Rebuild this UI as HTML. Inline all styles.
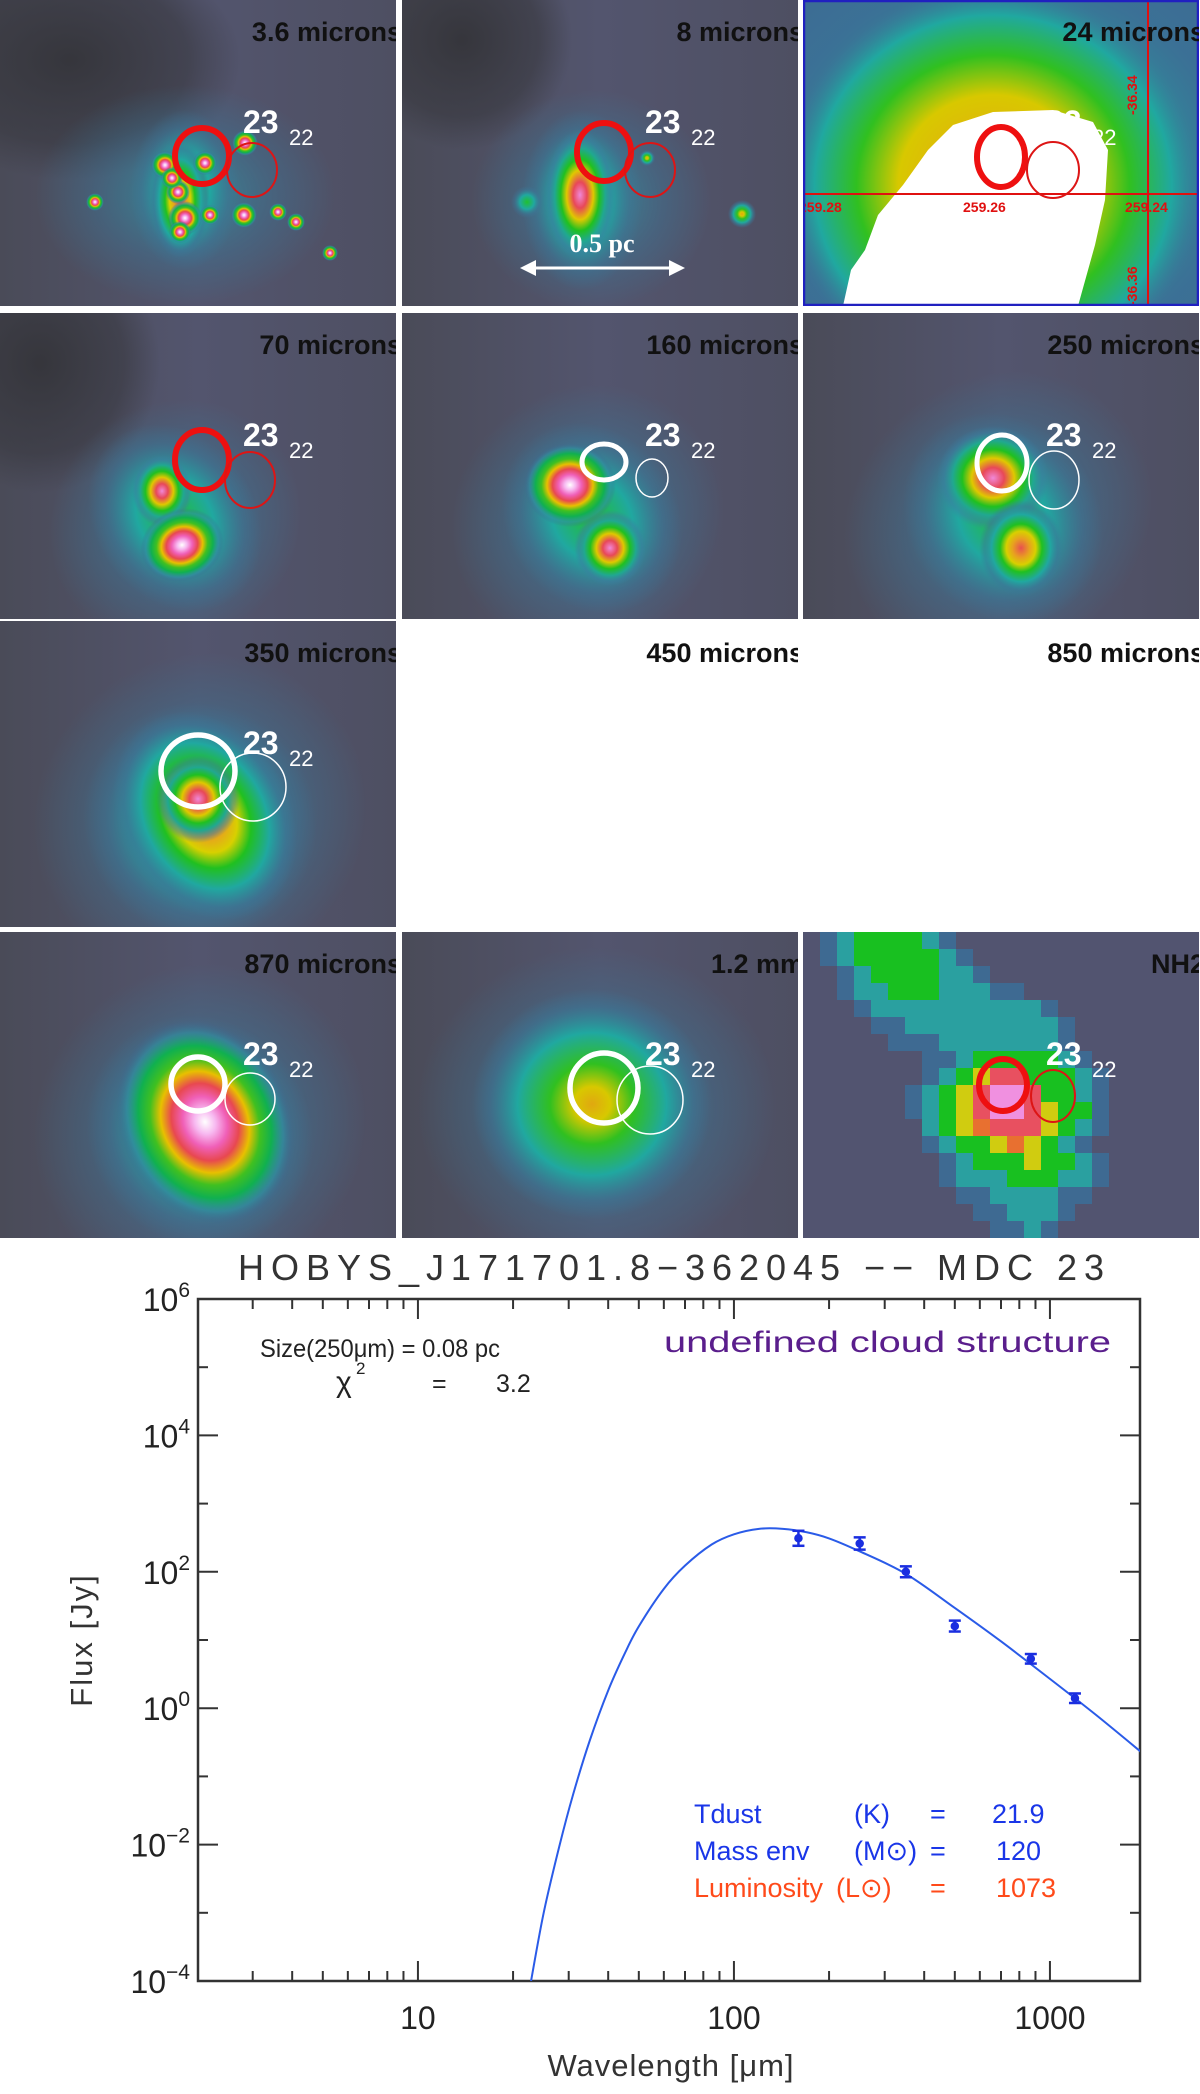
<!DOCTYPE html>
<html><head><meta charset="utf-8">
<style>
html,body{margin:0;padding:0;background:#fff;}
svg{display:block;}
text{font-family:"Liberation Sans",sans-serif;}
</style></head>
<body>
<svg id="root" width="1200" height="2094" viewBox="0 0 1200 2094" xmlns="http://www.w3.org/2000/svg">
<defs>
<radialGradient id="h5"><stop offset="0" stop-color="#ffffff"/><stop offset=".12" stop-color="#f7b8f0"/><stop offset=".25" stop-color="#f060b8"/><stop offset=".38" stop-color="#e84850"/><stop offset=".5" stop-color="#e8c000"/><stop offset=".62" stop-color="#40c020"/><stop offset=".75" stop-color="#10b050"/><stop offset=".88" stop-color="#3090a0" stop-opacity=".6"/><stop offset="1" stop-color="#406090" stop-opacity="0"/></radialGradient>
<radialGradient id="h4"><stop offset="0" stop-color="#f088d8"/><stop offset=".2" stop-color="#e84858"/><stop offset=".38" stop-color="#e0c800"/><stop offset=".55" stop-color="#20c020"/><stop offset=".72" stop-color="#20a890"/><stop offset=".88" stop-color="#3a80a0" stop-opacity=".5"/><stop offset="1" stop-color="#3a80a0" stop-opacity="0"/></radialGradient>
<radialGradient id="h3"><stop offset="0" stop-color="#e85050"/><stop offset=".2" stop-color="#e8a020"/><stop offset=".35" stop-color="#d8d000"/><stop offset=".5" stop-color="#20c020"/><stop offset=".7" stop-color="#20a8a0"/><stop offset=".88" stop-color="#3a7898" stop-opacity=".5"/><stop offset="1" stop-color="#3a7898" stop-opacity="0"/></radialGradient>
<radialGradient id="h2"><stop offset="0" stop-color="#e0a810"/><stop offset=".15" stop-color="#d8c800"/><stop offset=".35" stop-color="#30c020"/><stop offset=".62" stop-color="#20a8a0"/><stop offset=".85" stop-color="#3a7898" stop-opacity=".5"/><stop offset="1" stop-color="#3a7898" stop-opacity="0"/></radialGradient>
<radialGradient id="h1"><stop offset="0" stop-color="#20c030"/><stop offset=".45" stop-color="#20a8a0"/><stop offset=".8" stop-color="#3a7898" stop-opacity=".4"/><stop offset="1" stop-color="#3a7898" stop-opacity="0"/></radialGradient>
<radialGradient id="h0"><stop offset="0" stop-color="#2aa0a8" stop-opacity=".8"/><stop offset=".6" stop-color="#3a7898" stop-opacity=".4"/><stop offset="1" stop-color="#3a7898" stop-opacity="0"/></radialGradient>
<radialGradient id="hy"><stop offset="0" stop-color="#e8a018"/><stop offset=".45" stop-color="#d8c800"/><stop offset=".65" stop-color="#30c020"/><stop offset=".85" stop-color="#20a8a0"/><stop offset="1" stop-color="#3a7898" stop-opacity="0"/></radialGradient>
<radialGradient id="dk"><stop offset="0" stop-color="#333338" stop-opacity=".9"/><stop offset=".7" stop-color="#38383f" stop-opacity=".6"/><stop offset="1" stop-color="#3a3a42" stop-opacity="0"/></radialGradient>
<linearGradient id="bg" x1="0" y1="0" x2="1" y2="0"><stop offset="0" stop-color="#4a4b58"/><stop offset=".5" stop-color="#53556e"/><stop offset="1" stop-color="#4e4f62"/></linearGradient>
<clipPath id="plotclip"><rect x="198" y="1299" width="942" height="682"/></clipPath>
</defs>
<g id="panels"></g>
<g id="chart"></g>
</svg>
<script>
// ===== SED chart data =====
const pointWavelengths = [160, 250, 350, 500, 870, 1200];
const pointFluxes = [310, 260, 100, 16, 5.3, 1.4];
const pointErrDex = [0.11, 0.09, 0.08, 0.08, 0.07, 0.07];
const curveWavelengths = [22.8, 25, 28, 31, 35, 40, 45, 50, 60, 70, 85, 100, 120, 143, 170, 200, 250, 350, 500, 700, 1000, 1400, 2000];
const curveFluxLog = [-4.0, -3.0, -2.03, -1.26, -0.47, 0.26, 0.79, 1.2, 1.75, 2.09, 2.4, 2.55, 2.63, 2.63, 2.58, 2.49, 2.3, 1.97, 1.47, 0.98, 0.43, -0.1, -0.69];
const yTickExps = [6, 4, 2, 0, -2, -4];
const xTickLabels = [10, 100, 1000];

const NS = "http://www.w3.org/2000/svg";
function mk(tag, attrs, parent) {
  const e = document.createElementNS(NS, tag);
  for (const k in attrs) e.setAttribute(k, attrs[k]);
  if (parent) parent.appendChild(e);
  return e;
}
const PL = 198, PR = 1140, PT = 1299, PB = 1981;
const LXMIN = 0.304, LXMAX = 3.285, LYMIN = -4, LYMAX = 6;
function X(l) { return PL + (Math.log10(l) - LXMIN) / (LXMAX - LXMIN) * (PR - PL); }
function YL(lg) { return PB - (lg - LYMIN) / (LYMAX - LYMIN) * (PB - PT); }
function Y(f) { return YL(Math.log10(f)); }

const chart = document.getElementById('chart');
const ink = "#333";
let t = mk('text', {x: 671, y: 1280, 'font-size': 36, 'text-anchor': 'middle', fill: '#333', textLength: 866, lengthAdjust: 'spacing'}, chart);
t.textContent = "HOBYS_J171701.8\u2212362045   \u2212\u2212   MDC 23";


let fr = mk('rect', {x: PL, y: PT, width: PR - PL, height: PB - PT, fill: 'none', stroke: ink, 'stroke-width': 2.5}, chart);


for (let e = -4; e <= 6; e++) {
  const y = YL(e), len = (e % 2 === 0) ? 20 : 10;
  let a = mk('line', {x1: PL, x2: PL + len, y1: y, y2: y, stroke: ink, 'stroke-width': 2}, chart);
  
  
  let b = mk('line', {x1: PR, x2: PR - len, y1: y, y2: y, stroke: ink, 'stroke-width': 2}, chart);
  
  
}
yTickExps.forEach(e => {
  const y = YL(e);
  let tx = mk('text', {x: 190, y: y + 12, 'font-size': 32, 'text-anchor': 'end', fill: '#222'}, chart);
  
  
  const s1 = mk('tspan', {}, tx); s1.textContent = "10";
  const s2 = mk('tspan', {dy: -14, 'font-size': 21}, tx); s2.textContent = e < 0 ? "\u2212" + (-e) : String(e);
});
for (let d = 0; d <= 3; d++) {
  for (let m = 1; m <= 9; m++) {
    const v = m * Math.pow(10, d);
    const lg = Math.log10(v);
    if (lg < LXMIN || lg > LXMAX) continue;
    const x = X(v), len = (m === 1) ? 20 : 10;
    let a = mk('line', {x1: x, x2: x, y1: PB, y2: PB - len, stroke: ink, 'stroke-width': 2}, chart);
    
    
    let b = mk('line', {x1: x, x2: x, y1: PT, y2: PT + len, stroke: ink, 'stroke-width': 2}, chart);
    
    
  }
}
xTickLabels.forEach(v => {
  let tx = mk('text', {x: X(v), y: 2029, 'font-size': 32, 'text-anchor': 'middle', fill: '#222'}, chart);
  tx.textContent = String(v);
  
  
});
let xt = mk('text', {x: 671, y: 2076, 'font-size': 31, 'text-anchor': 'middle', fill: '#333', 'letter-spacing': 1}, chart);
xt.textContent = "Wavelength [\u03bcm]";


let yt = mk('text', {x: 0, y: 0, 'font-size': 31, 'text-anchor': 'middle', fill: '#333', 'letter-spacing': 2, transform: 'translate(92,1640) rotate(-90)'}, chart);
yt.textContent = "Flux [Jy]";


const cp = curveWavelengths.map((l, i) => [X(l), YL(curveFluxLog[i])]);
let d = "M" + cp[0][0] + "," + cp[0][1];
for (let i = 0; i < cp.length - 1; i++) {
  const p0 = cp[Math.max(0, i - 1)], p1 = cp[i], p2 = cp[i + 1], p3 = cp[Math.min(cp.length - 1, i + 2)];
  const c1 = [p1[0] + (p2[0] - p0[0]) / 6, p1[1] + (p2[1] - p0[1]) / 6];
  const c2 = [p2[0] - (p3[0] - p1[0]) / 6, p2[1] - (p3[1] - p1[1]) / 6];
  d += " C" + c1.join(",") + " " + c2.join(",") + " " + p2.join(",");
}
let cv = mk('path', {d: d, fill: 'none', stroke: '#2a5be8', 'stroke-width': 2, 'clip-path': 'url(#plotclip)'}, chart);


pointWavelengths.forEach((l, i) => {
  const x = X(l), f = pointFluxes[i], e = pointErrDex[i];
  const yc = Y(f), y1 = YL(Math.log10(f) + e), y2 = YL(Math.log10(f) - e);
  const g = mk('g', {stroke: '#1a2ee0', 'stroke-width': 2.5, fill: '#1a2ee0'}, chart);
  
  
  mk('line', {x1: x, x2: x, y1: y1, y2: y2}, g);
  mk('line', {x1: x - 6, x2: x + 6, y1: y1, y2: y1}, g);
  mk('line', {x1: x - 6, x2: x + 6, y1: y2, y2: y2}, g);
  mk('circle', {cx: x, cy: yc, r: 3}, g);
});
function txt(x, y, s, size, fill, name, extra) {
  const a = Object.assign({x: x, y: y, 'font-size': size, fill: fill}, extra || {});
  const e = mk('text', a, chart);
  e.textContent = s;
  
  
  return e;
}
txt(260, 1357, "Size(250\u03bcm) = 0.08 pc", 25, '#222', 'size-annotation', {textLength: 240, lengthAdjust: 'spacingAndGlyphs'});
txt(336, 1392, "\u03c7", 30, '#222', 'chi2-symbol');
txt(356, 1374, "2", 17, '#222', 'chi2-exponent');
txt(432, 1392, "=", 25, '#222', 'chi2-equals');
txt(496, 1392, "3.2", 25, '#222', 'chi2-value');
txt(664, 1352, "undefined cloud structure", 30, '#5a1e8c', 'cloud-structure-label', {textLength: 447, lengthAdjust: 'spacingAndGlyphs'});
const blue = '#1a36e8', red = '#ff4a1a';
txt(694, 1823, "Tdust", 27, blue, 'tdust-label');
txt(854, 1823, "(K)", 27, blue, 'tdust-unit');
txt(930, 1823, "=", 27, blue, 'tdust-equals');
txt(992, 1823, "21.9", 27, blue, 'tdust-value');
txt(694, 1860, "Mass env", 27, blue, 'mass-label');
txt(854, 1860, "(M\u2299)", 27, blue, 'mass-unit');
txt(930, 1860, "=", 27, blue, 'mass-equals');
txt(996, 1860, "120", 27, blue, 'mass-value');
txt(694, 1897, "Luminosity", 27, red, 'luminosity-label');
txt(836, 1897, "(L\u2299)", 27, red, 'luminosity-unit');
txt(930, 1897, "=", 27, red, 'luminosity-equals');
txt(996, 1897, "1073", 27, red, 'luminosity-value');

// ===== image panels =====
const panelsG = document.getElementById('panels');
const colX = [0, 402, 803], rowY = [0, 313, 621, 932];
const PW = 396, PH = 306;
const panels = [
  {c:0,r:0,title:"3.6 microns",name:'panel-3-6-microns',dark:[[70,60,170,120]],
   blobs:[['h0',185,195,150,110,0],['h1',185,190,55,80,0],['h3',180,200,30,58,0],
     ['h5',165,165,14,14,0],['h5',205,163,12,12,0],['h5',178,192,12,12,0],['h5',185,218,17,17,0],['h5',245,143,13,13,0],['h5',95,202,9,9,0],['h5',244,215,13,13,0],['h5',180,232,11,11,0],['h5',278,212,9,9,0],['h5',296,222,9,9,0],['h5',330,253,8,8,0],['h5',210,215,10,10,0],['h5',172,178,11,11,0]],
   circ:[[202,156,27,28,'#ee1010',6],[252,170,25,27,'#dd1515',2]]},
  {c:1,r:0,title:"8 microns",name:'panel-8-microns',dark:[[60,40,110,110]],
   blobs:[['h0',190,200,120,110,0],['h1',180,200,60,90,0],['h4',178,195,35,65,0],['h1',125,202,16,16,0],['h2',340,214,14,14,0],['h2',245,158,8,8,0]],
   circ:[[202,152,27,29,'#ee1010',6],[248,170,25,27,'#dd1515',2]], arrow:true},
  {c:2,r:0,title:"24 microns",name:'panel-24-microns',mid:true,
   blobs:[['h1',200,170,280,240,0],['hy',190,185,210,200,0]],
   circ:[[198,157,24,30,'#ee1010',6],[250,170,26,28,'#dd1515',2]]},
  {c:0,r:1,title:"70 microns",name:'panel-70-microns',dark:[[40,50,120,130]],
   blobs:[['h0',175,210,130,120,-35],['h1',175,205,80,100,-35],['h4',162,178,30,36,0],['h5',182,232,42,36,-20]],
   circ:[[202,147,27,30,'#ee1010',6],[250,167,25,28,'#dd1515',2]]},
  {c:1,r:1,title:"160 microns",name:'panel-160-microns',
   blobs:[['h0',185,205,140,130,-35],['h1',190,205,85,100,-35],['h5',168,172,46,42,0],['h4',208,235,36,38,0]],
   circ:[[202,149,22,18,'#ffffff',5],[250,165,16,19,'#ffffff',1.5]]},
  {c:2,r:1,title:"250 microns",name:'panel-250-microns',
   blobs:[['h0',195,205,160,140,-35],['h1',200,205,95,110,-35],['h4',190,165,56,52,0],['h3',218,235,42,48,0]],
   circ:[[199,150,25,28,'#ffffff',5],[251,167,25,29,'#ffffff',1.5]]},
  {c:0,r:2,title:"350 microns",name:'panel-350-microns',
   blobs:[['h0',200,195,170,160,-35],['h1',200,200,115,120,-35],['h3',205,195,85,110,-30],['h4',198,178,42,44,0]],
   circ:[[198,150,37,36,'#ffffff',5.5],[253,166,33,34,'#ffffff',1.5]]},
  {c:1,r:2,title:"450 microns",name:'panel-450-microns',blank:true},
  {c:2,r:2,title:"850 microns",name:'panel-850-microns',blank:true},
  {c:0,r:3,title:"870 microns",name:'panel-870-microns',
   blobs:[['h0',200,195,170,160,-35],['h1',200,200,110,120,-35],['h5',205,190,85,105,-25]],
   circ:[[198,152,27,27,'#ffffff',5.5],[250,167,25,26,'#ffffff',1.5]]},
  {c:1,r:3,title:"1.2 mm",name:'panel-1-2-mm',
   blobs:[['h0',195,175,180,160,0],['h2',190,172,120,115,0]],
   circ:[[202,156,34,35,'#ffffff',5.5],[248,168,33,34,'#ffffff',1.5]]},
  {c:2,r:3,title:"NH2",name:'panel-nh2',grid:true,
   circ:[[200,153,24,26,'#ee1010',6],[250,164,22,26,'#dd1515',2]]}
];
const nh2Map = [
 ".btggggtb...............",
 ".btgggggtb..............",
 "..btggggttb.............",
 "..bttgggtttbb...........",
 "...bttttttttttb.........",
 "....bbtttttttttb........",
 ".....bbbtttttttb........",
 ".......bbtgggggtb.......",
 ".......btgyrrgggtb......",
 "......btgyrpprggtb......",
 "......btgyrppryggb......",
 ".......tgyorrrygtb......",
 ".......btggyoygtb.......",
 "........btgggyggtb......",
 "........btttgggttb......",
 ".........bbttttbb.......",
 "..........bbtttb........",
 "...........bbtb........."
];
const cellCol = {'.':'#525470','b':'#3e6a92','t':'#2aa0a0','g':'#18c020','y':'#d0cc10','o':'#e87030','r':'#e85060','p':'#f090e0'};
panels.forEach((p, i) => {
  const g = mk('g', {transform: 'translate(' + colX[p.c] + ',' + rowY[p.r] + ')'}, panelsG);
  
  
  const cid = 'pc' + i;
  const cpth = mk('clipPath', {id: cid}, g);
  mk('rect', {x: 0, y: 0, width: PW, height: PH}, cpth);
  const inner = mk('g', {'clip-path': 'url(#' + cid + ')'}, g);
  if (!p.blank) {
    mk('rect', {x: 0, y: 0, width: PW, height: PH, fill: p.mid ? '#3c6c94' : 'url(#bg)'}, inner);
    (p.dark || []).forEach(dk => mk('ellipse', {cx: dk[0], cy: dk[1], rx: dk[2], ry: dk[3], fill: 'url(#dk)'}, inner));
    (p.blobs || []).forEach(b => mk('ellipse', {cx: b[1], cy: b[2], rx: b[3], ry: b[4], fill: 'url(#' + b[0] + ')', transform: 'rotate(' + b[5] + ' ' + b[1] + ' ' + b[2] + ')'}, inner));
    if (p.grid) {
      nh2Map.forEach((row, ri) => {
        for (let ci = 0; ci < row.length; ci++) {
          mk('rect', {x: ci * 17, y: ri * 17, width: 17.5, height: 17.5, fill: cellCol[row[ci]]}, inner);
        }
      });
    }
    if (p.mid) {
      mk('path', {d: 'M40,306 L48,270 L62,250 L75,215 L100,185 L125,150 L150,125 L190,112 L250,110 L290,122 L305,150 L302,200 L292,245 L275,306 Z', fill: '#ffffff'}, inner);
      const lc = '#e01010';
      mk('line', {x1: 0, x2: PW, y1: 194, y2: 194, stroke: lc, 'stroke-width': 2}, inner);
      mk('line', {x1: 345, x2: 345, y1: 0, y2: PH, stroke: lc, 'stroke-width': 2}, inner);
      const lbls = [["259.28", -4, 212], ["259.26", 160, 212], ["259.24", 322, 212]];
      lbls.forEach(l => { const e = mk('text', {x: l[1], y: l[2], 'font-size': 14, 'font-weight': 'bold', fill: lc}, inner); e.textContent = l[0]; });
      const v1 = mk('text', {x: 0, y: 0, 'font-size': 14, 'font-weight': 'bold', fill: lc, transform: 'translate(334,115) rotate(-90)'}, inner); v1.textContent = "-36.34";
      const v2 = mk('text', {x: 0, y: 0, 'font-size': 14, 'font-weight': 'bold', fill: lc, transform: 'translate(334,306) rotate(-90)'}, inner); v2.textContent = "-36.36";
      mk('rect', {x: 1, y: 1, width: PW - 2, height: PH - 2, fill: 'none', stroke: '#2020c0', 'stroke-width': 2.5}, inner);
    }
    (p.circ || []).forEach(c => mk('ellipse', {cx: c[0], cy: c[1], rx: c[2], ry: c[3], fill: 'none', stroke: c[4], 'stroke-width': c[5]}, inner));
    const l23 = mk('text', {x: 243, y: 133, 'font-size': 32, 'font-weight': 'bold', fill: '#fff'}, inner);
    l23.textContent = "23";
    
    
    const l22 = mk('text', {x: 289, y: 145, 'font-size': 22, fill: '#fff'}, inner);
    l22.textContent = "22";
    
    
    if (p.arrow) {
      const ag = mk('g', {fill: '#fff', stroke: '#fff'}, inner);
      
      
      mk('line', {x1: 125, x2: 276, y1: 268, y2: 268, 'stroke-width': 3}, ag);
      mk('path', {d: 'M118,268 L134,260 L134,276 Z', stroke: 'none'}, ag);
      mk('path', {d: 'M283,268 L267,260 L267,276 Z', stroke: 'none'}, ag);
      const st = mk('text', {x: 200, y: 252, 'font-size': 26, 'font-weight': 'bold', 'text-anchor': 'middle', fill: '#fff', stroke: 'none', style: 'font-family:"Liberation Serif",serif'}, ag);
      st.textContent = "0.5 pc";
    }
  }
  const tt = mk('text', {x: PW + 6, y: 41, 'font-size': 27, 'font-weight': 'bold', 'text-anchor': 'end', fill: '#111'}, inner);
  tt.textContent = p.title;
  
  
});
</script>
</body></html>
